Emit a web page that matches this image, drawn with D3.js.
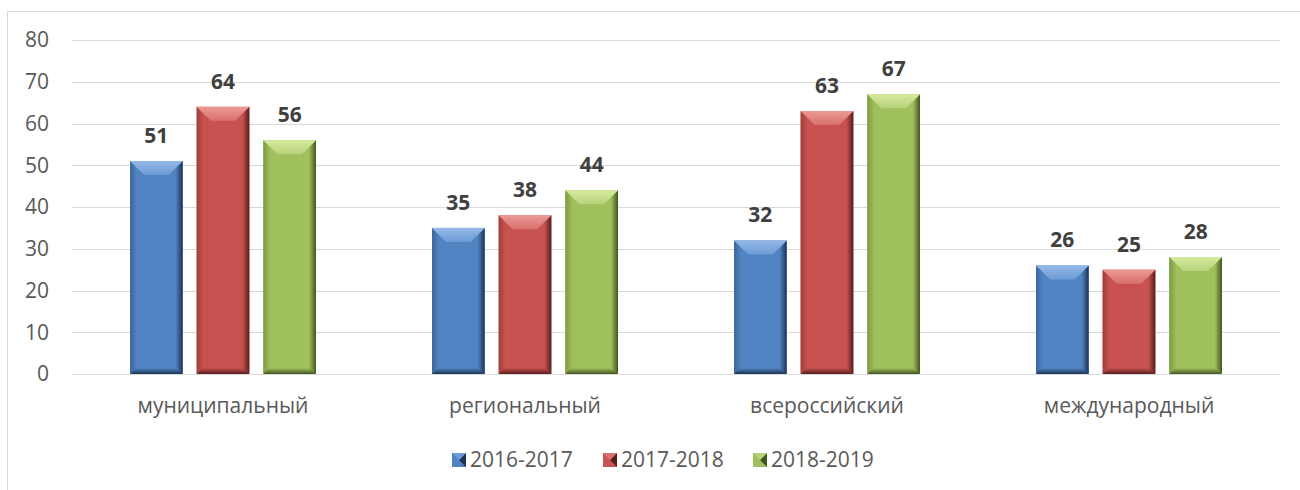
<!DOCTYPE html>
<html><head><meta charset="utf-8">
<script src="https://cdn.jsdelivr.net/npm/d3@7"></script>
<style>body{margin:0;background:#fff}svg{display:block}text{font-family:"Open Sans",sans-serif}</style>
</head><body><svg id="c" width="1300" height="490"></svg>
<script>
const categories = ["муниципальный","региональный","всероссийский","международный"];
const seriesNames = ["2016-2017","2017-2018","2018-2019"];
const v2016 = [51,35,32,26];
const v2017 = [64,38,63,25];
const v2018 = [56,44,67,28];
const yTicks = [0,10,20,30,40,50,60,70,80];
const seriesValues = [v2016,v2017,v2018];
const palettes = [
  {base:"#5083C2", light:"#94B9E6", mid:"#6D9BD6", dark:"#1B3354", edge:"#3E6699"},
  {base:"#C8524F", light:"#EC9A97", mid:"#D8706C", dark:"#561F1E", edge:"#9E3F3C"},
  {base:"#9FC05C", light:"#D6EAA0", mid:"#B6D279", dark:"#43551F", edge:"#7E9A43"}
];

const svg = d3.select("#c");
const defs = svg.append("defs");
palettes.forEach((p,i)=>{
  let g = defs.append("linearGradient").attr("id","top"+i).attr("x1",0).attr("y1",0).attr("x2",0).attr("y2",1);
  g.append("stop").attr("offset",0).attr("stop-color",p.light);
  g.append("stop").attr("offset",1).attr("stop-color",p.mid);
  g = defs.append("linearGradient").attr("id","right"+i).attr("x1",0).attr("y1",0).attr("x2",1).attr("y2",0);
  g.append("stop").attr("offset",0).attr("stop-color",p.base);
  g.append("stop").attr("offset",1).attr("stop-color",p.dark);
  g = defs.append("linearGradient").attr("id","left"+i).attr("x1",0).attr("y1",0).attr("x2",1).attr("y2",0);
  g.append("stop").attr("offset",0).attr("stop-color",p.edge);
  g.append("stop").attr("offset",1).attr("stop-color",p.base);
  g = defs.append("linearGradient").attr("id","bot"+i).attr("x1",0).attr("y1",0).attr("x2",0).attr("y2",1);
  g.append("stop").attr("offset",0).attr("stop-color",p.base);
  g.append("stop").attr("offset",1).attr("stop-color",p.dark);
});

// chart border
svg.append("path").attr("d","M7.5,490 L7.5,11.5 L1300,11.5").attr("fill","none").attr("stroke","#d9d9d9").attr("stroke-width",1);

const pLeft=72, pRight=1280, pTop=40, pBottom=374;
const y = d3.scaleLinear().domain([0,80]).range([pBottom,pTop]);
const x0 = d3.scaleBand().domain(categories).range([pLeft,pRight]).padding(0);
const x1 = d3.scaleBand().domain(seriesNames).range([58, x0.bandwidth()-58]).paddingInner(0.21).paddingOuter(0);

// grid
svg.append("g").selectAll("line").data(yTicks).join("line")
  .attr("x1",pLeft).attr("x2",pRight)
  .attr("y1",d=>Math.round(y(d))+0.5).attr("y2",d=>Math.round(y(d))+0.5)
  .attr("stroke","#d9d9d9").attr("stroke-width",1);

// y labels
svg.append("g").selectAll("text").data(yTicks).join("text")
  .attr("x",49).attr("y",d=>y(d)).attr("dy","0.35em").attr("text-anchor","end")
  .attr("font-size",21).attr("fill","#595959").text(d=>d);

// bars
const bars = [];
categories.forEach((c,ci)=>{
  seriesNames.forEach((s,si)=>{
    bars.push({c, s, si, v: seriesValues[si][ci]});
  });
});
const bg = svg.append("g");
bars.forEach(b=>{
  const xa = x0(b.c)+x1(b.s), xb = xa + x1.bandwidth();
  const ya = y(b.v), yb = y(0);
  const g = bg.append("g");
  const p = palettes[b.si];
  g.append("rect").attr("x",xa).attr("y",ya).attr("width",xb-xa).attr("height",yb-ya).attr("fill",p.base);
  const s=7, t=14, bb=6;
  g.append("polygon").attr("points",[[xa,ya],[xa+s,ya+s],[xa+s,yb-bb],[xa,yb]].join(" ")).attr("fill","url(#left"+b.si+")");
  g.append("polygon").attr("points",[[xb,ya],[xb-s,ya+s],[xb-s,yb-bb],[xb,yb]].join(" ")).attr("fill","url(#right"+b.si+")");
  g.append("polygon").attr("points",[[xa,ya],[xb,ya],[xb-t,ya+t],[xa+t,ya+t]].join(" ")).attr("fill","url(#top"+b.si+")");
  g.append("polygon").attr("points",[[xa,yb],[xb,yb],[xb-bb,yb-bb],[xa+bb,yb-bb]].join(" ")).attr("fill","url(#bot"+b.si+")");
  g.append("text").attr("x",(xa+xb)/2).attr("y",ya-18).attr("text-anchor","middle")
    .attr("font-size",21).attr("font-weight","bold").attr("fill","#404040").text(b.v);
});

// category labels
svg.append("g").selectAll("text").data(categories).join("text")
  .attr("x",d=>x0(d)+x0.bandwidth()/2).attr("y",406).attr("dy","0.35em").attr("text-anchor","middle")
  .attr("font-size",21).attr("fill","#595959").text(d=>d);

// legend
const legX = [452,603,753];
const lg = svg.append("g");
seriesNames.forEach((s,i)=>{
  const p = palettes[i];
  const mx = legX[i], my = 453, ms = 14;
  lg.append("rect").attr("x",mx).attr("y",my).attr("width",ms).attr("height",ms).attr("fill",p.base);
  lg.append("polygon").attr("points",[[mx+ms,my],[mx+ms,my+ms],[mx+ms/2,my+ms/2]].join(" ")).attr("fill",p.dark);
  lg.append("polygon").attr("points",[[mx,my],[mx+ms,my],[mx+ms/2,my+ms/2]].join(" ")).attr("fill",p.mid);
  lg.append("text").attr("x",mx+18).attr("y",my+ms/2).attr("dy","0.35em")
    .attr("font-size",21).attr("fill","#595959").text(s);
});
</script></body></html>
